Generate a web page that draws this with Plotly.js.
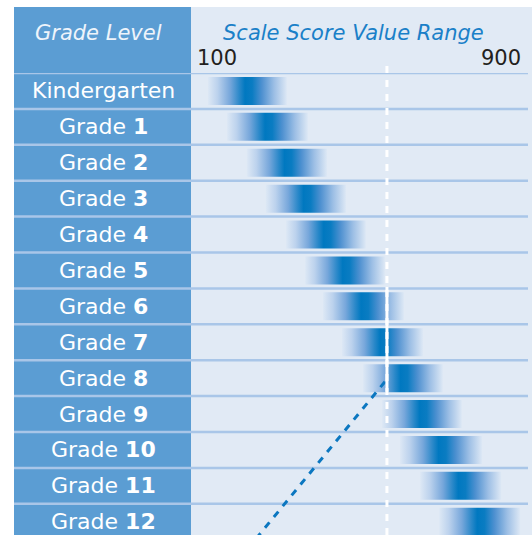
<!DOCTYPE html>
<html>
<head>
<meta charset="utf-8">
<script src="https://cdn.plot.ly/plotly-3.0.1.min.js"></script>
<style>html,body{margin:0;padding:0;background:#fff;}#chart{width:532px;height:535px;}</style>
</head>
<body>
<div id="chart"></div>
<script>
// ---- data ----
const gradeNames = ["Kindergarten","Grade 1","Grade 2","Grade 3","Grade 4","Grade 5","Grade 6","Grade 7","Grade 8","Grade 9","Grade 10","Grade 11","Grade 12"];
const gradeWords = ["Kindergarten","Grade","Grade","Grade","Grade","Grade","Grade","Grade","Grade","Grade","Grade","Grade","Grade"];
const gradeNumbers = ["","1","2","3","4","5","6","7","8","9","10","11","12"];
const rangeLow  = [127, 174, 223, 270, 320, 367, 411, 458, 510, 557, 601, 651, 698];
const rangeHigh = [322, 374, 421, 468, 517, 564, 611, 658, 707, 754, 804, 851, 898];
const axisTickValues = [100, 900];
const axisTickLabels = ["100", "900"];
const referenceScore = 569;
const referenceSolidRows = [5.46, 8.38];
const diagonalX = [564, 203];
const diagonalY = [8.1, 13.06];

// ---- layout constants ----
const W = 532, H = 535;
const colLeft = 14, colRight = 191, topY = 7, headerBottom = 73, rowH = 35.9;
const pxPerUnit = 0.405, px100 = 197;
const xMin = 100 - (px100 - colRight) / pxPerUnit;
const xMax = 100 + (W - px100) / pxPerUnit;
const yTop = -0.5, yBottom = -0.5 + (H - headerBottom) / rowH;
const barHalf = 0.39;

const gradScale = [
  [0, '#dde8f5'], [0.12, '#bcd2ed'], [0.28, '#77a7db'], [0.4, '#2a88c9'],
  [0.47, '#0078c0'], [0.56, '#0a7cc2'], [0.68, '#4d90d0'], [0.84, '#9dbfe5'], [1, '#dde8f5']
];

const traces = [];
for (let i = 0; i < gradeNames.length; i++) {
  traces.push({
    type: 'scatter', mode: 'lines',
    x: [rangeLow[i], rangeHigh[i], rangeHigh[i], rangeLow[i], rangeLow[i]],
    y: [i - barHalf, i - barHalf, i + barHalf, i + barHalf, i - barHalf],
    fill: 'toself',
    fillgradient: {type: 'horizontal', colorscale: gradScale, start: rangeLow[i], stop: rangeHigh[i]},
    line: {width: 0, color: 'rgba(0,0,0,0)'},
    hoverinfo: 'skip', showlegend: false
  });
}
traces.push({
  type: 'scatter', mode: 'lines', x: diagonalX, y: diagonalY,
  line: {color: '#0b77c0', width: 3, dash: '7px,7px'},
  hoverinfo: 'skip', showlegend: false
});

const shapes = [
  {type: 'rect', xref: 'paper', yref: 'paper', x0: colLeft / W, x1: colRight / W, y0: 0, y1: 1 - topY / H,
   fillcolor: '#5b9dd3', line: {width: 0}, layer: 'below'},
  {type: 'rect', xref: 'paper', yref: 'paper', x0: colRight / W, x1: 1, y0: 0, y1: 1 - topY / H,
   fillcolor: '#e1eaf5', line: {width: 0}, layer: 'below'}
];
for (let i = 0; i < gradeNames.length; i++) {
  shapes.push({type: 'line', xref: 'paper', yref: 'y', x0: colLeft / W, x1: 528 / W, y0: i - 0.5, y1: i - 0.5,
    line: {color: '#a9c6e8', width: 2.5}, layer: 'below'});
}
shapes.push({type: 'line', xref: 'x', yref: 'paper', x0: referenceScore, x1: referenceScore, y0: 0, y1: 1 - 62 / H,
  line: {color: '#ffffff', width: 3, dash: '7px,7px'}, layer: 'above'});
shapes.push({type: 'line', xref: 'x', yref: 'y', x0: referenceScore, x1: referenceScore, y0: referenceSolidRows[0], y1: referenceSolidRows[1],
  line: {color: '#ffffff', width: 3}, layer: 'above'});

const font = 'DejaVu Sans, Verdana, sans-serif';
const annotations = [];
for (let i = 0; i < gradeNames.length; i++) {
  const txt = gradeNumbers[i] ? gradeWords[i] + ' <b>' + gradeNumbers[i] + '</b>' : gradeWords[i];
  annotations.push({xref: 'paper', yref: 'y', x: 103 / W, y: i, text: txt, showarrow: false,
    xanchor: 'center', yanchor: 'middle', font: {family: font, size: 22, color: '#ffffff'}});
}
annotations.push({xref: 'paper', yref: 'paper', x: 98 / W, y: 1 - 33 / H, text: '<i>Grade Level</i>', showarrow: false,
  xanchor: 'center', yanchor: 'middle', font: {family: font, size: 21, color: '#eef4fb'}});
annotations.push({xref: 'paper', yref: 'paper', x: 221 / W, y: 1 - 33 / H, text: '<i>Scale Score Value Range</i>', showarrow: false,
  xanchor: 'left', yanchor: 'middle', font: {family: font, size: 21, color: '#1a80c8'}});
annotations.push({xref: 'x', yref: 'paper', x: axisTickValues[0], y: 1 - 58.5 / H, text: axisTickLabels[0], showarrow: false,
  xanchor: 'left', yanchor: 'middle', xshift: -2, font: {family: font, size: 21, color: '#231f20'}});
annotations.push({xref: 'x', yref: 'paper', x: axisTickValues[1], y: 1 - 58.5 / H, text: axisTickLabels[1], showarrow: false,
  xanchor: 'right', yanchor: 'middle', xshift: 2, font: {family: font, size: 21, color: '#231f20'}});

const layout = {
  width: W, height: H,
  margin: {l: 0, r: 0, t: 0, b: 0, pad: 0},
  paper_bgcolor: '#ffffff', plot_bgcolor: 'rgba(0,0,0,0)',
  showlegend: false,
  xaxis: {domain: [colRight / W, 1], range: [xMin, xMax], showgrid: false, zeroline: false, showticklabels: false, ticks: '', fixedrange: true},
  yaxis: {domain: [0, (H - headerBottom) / H], range: [yBottom, yTop], showgrid: false, zeroline: false, showticklabels: false, ticks: '', fixedrange: true},
  shapes: shapes,
  annotations: annotations
};

Plotly.newPlot('chart', traces, layout, {staticPlot: true, displayModeBar: false});
</script>
</body>
</html>
